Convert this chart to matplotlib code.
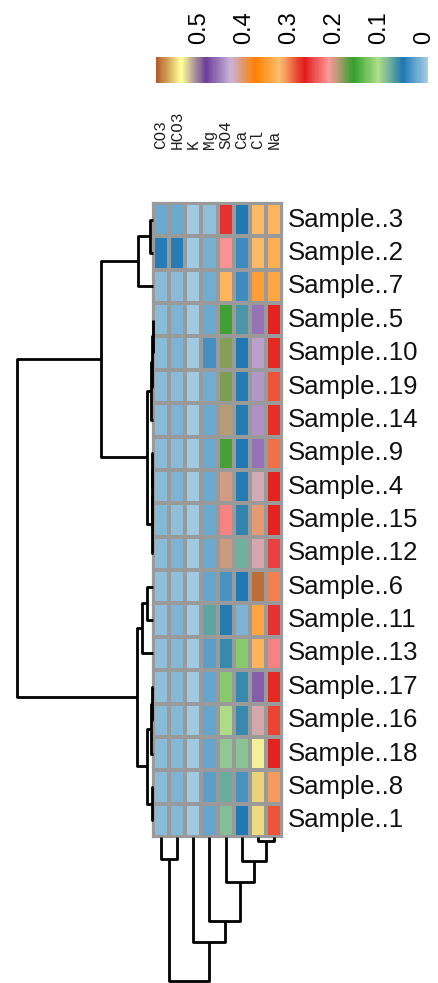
import numpy as np
import matplotlib
matplotlib.use("Agg")
import matplotlib.pyplot as plt
from matplotlib.colors import LinearSegmentedColormap, Normalize
from matplotlib.cm import ScalarMappable

# rows in the order shown (top to bottom)
samples = ["Sample..3", "Sample..2", "Sample..7", "Sample..5", "Sample..10",
           "Sample..19", "Sample..14", "Sample..9", "Sample..4", "Sample..15",
           "Sample..12", "Sample..6", "Sample..11", "Sample..13", "Sample..17",
           "Sample..16", "Sample..18", "Sample..8", "Sample..1"]
ions = ["CO3", "HCO3", "K", "Mg", "SO4", "Ca", "Cl", "Na"]

co3 = [0.017, 0.044, 0.005, 0.006, 0.004, 0.004, 0.004, 0.004, 0.004, 0.008,
       0.004, 0.002, 0.002, 0.003, 0.003, 0.004, 0.004, 0.004, 0.004]
hco3 = [0.017, 0.044, 0.004, 0.010, 0.010, 0.006, 0.009, 0.006, 0.010, 0.003,
        0.010, 0.003, 0.010, 0.007, 0.007, 0.007, 0.007, 0.010, 0.007]
k = [-0.004, -0.004, -0.005, -0.005, -0.005, -0.005, -0.005, -0.005, -0.005, -0.005,
     -0.005, -0.005, -0.005, -0.005, -0.005, -0.005, -0.005, -0.005, -0.005]
mg = [0.002, 0.012, 0.014, 0.016, 0.033, 0.014, 0.016, 0.016, 0.016, 0.016,
      0.016, 0.020, 0.072, 0.025, 0.020, 0.020, 0.020, 0.025, 0.020]
so4 = [0.258, 0.215, 0.330, 0.160, 0.180, 0.178, 0.193, 0.163, 0.200, 0.222,
       0.198, 0.030, 0.050, 0.058, 0.121, 0.105, 0.089, 0.075, 0.085]
ca = [0.047, 0.036, 0.036, 0.063, 0.048, 0.050, 0.050, 0.048, 0.050, 0.055,
      0.078, 0.047, 0.010, 0.120, 0.058, 0.058, 0.087, 0.030, 0.047]
cl = [0.325, 0.325, 0.350, 0.460, 0.438, 0.443, 0.447, 0.460, 0.423, 0.407,
      0.420, 0.588, 0.345, 0.330, 0.470, 0.420, 0.536, 0.555, 0.553]
na = [0.330, 0.335, 0.345, 0.270, 0.272, 0.286, 0.275, 0.295, 0.270, 0.270,
      0.250, 0.300, 0.258, 0.222, 0.272, 0.280, 0.270, 0.310, 0.285]

# merges: (child a, child b, height); ids >= n are earlier merges
row_links = [(0, 1, 3), (19, 2, 15), (3, 4, 0.5), (21, 5, 1.2), (22, 6, 2.5),
             (7, 8, 0.6), (24, 9, 1.0), (25, 10, 1.5), (23, 26, 6), (20, 27, 52),
             (11, 12, 6), (29, 13, 11), (14, 15, 1), (31, 16, 2), (17, 18, 1),
             (32, 33, 6), (30, 34, 16), (28, 35, 136)]
col_links = [(0, 1, 22), (6, 7, 4), (5, 9, 24), (4, 10, 45), (3, 11, 84),
             (2, 12, 105), (8, 13, 144)]

data = np.column_stack([co3, hco3, k, mg, so4, ca, cl, na])
n_rows, n_cols = data.shape

cmap = LinearSegmentedColormap.from_list("paired_smooth", plt.get_cmap("Paired").colors)
norm = Normalize(vmin=-0.008, vmax=0.596)


def dendro_segments(links, n):
    pos = [i + 0.5 for i in range(n)]
    h = [0.0] * n
    segs = []
    for a, b, d in links:
        segs.append(([h[a], d, d, h[b]], [pos[a], pos[a], pos[b], pos[b]]))
        pos.append((pos[a] + pos[b]) / 2)
        h.append(d)
    return segs


W, H = 439, 983
fig = plt.figure(figsize=(W / 100, H / 100), dpi=100)


def px_axes(x0, y0, x1, y1):
    return fig.add_axes([x0 / W, 1 - y1 / H, (x1 - x0) / W, (y1 - y0) / H])


# heatmap
ax = px_axes(153, 203, 282, 837)
ax.pcolormesh(np.arange(n_cols + 1), np.arange(n_rows + 1), data, cmap=cmap, norm=norm,
              edgecolors="#9a9a9a", linewidth=1.6)
ax.set_xlim(0, n_cols)
ax.set_ylim(n_rows, 0)
ax.set_xticks([])
ax.set_yticks([])
for s in ax.spines.values():
    s.set_color("#9a9a9a")
    s.set_linewidth(1.6)
for i, name in enumerate(samples):
    ax.text(n_cols + 0.35, i + 0.5, name, va="center", ha="left", fontsize=18.5,
            family="Liberation Sans", color="#111111")
for j, name in enumerate(ions):
    ax.text(j + 0.5, -1.62, name, rotation=90, va="bottom", ha="center", fontsize=11.5,
            family="Liberation Mono", color="#222222")

# row dendrogram
rmax = max(l[2] for l in row_links)
axr = px_axes(153 - rmax * 1.05, 203, 153, 837)
for xs, ys in dendro_segments(row_links, n_rows):
    axr.plot(xs, ys, color="black", lw=2, solid_capstyle="butt", clip_on=False)
axr.set_xlim(rmax * 1.05, 0)
axr.set_ylim(n_rows, 0)
axr.axis("off")

# column dendrogram
cmax = max(l[2] for l in col_links)
axc = px_axes(153, 837, 282, 837 + cmax)
for ys, xs in dendro_segments(col_links, n_cols):
    axc.plot(xs, ys, color="black", lw=2, solid_capstyle="butt", clip_on=False)
axc.set_xlim(0, n_cols)
axc.set_ylim(cmax, 0)
axc.axis("off")

# colour key
cax = px_axes(156, 57, 428, 83)
cb = fig.colorbar(ScalarMappable(norm=norm, cmap=cmap), cax=cax, orientation="horizontal")
cb.outline.set_visible(False)
cb.set_ticks([0, 0.1, 0.2, 0.3, 0.4, 0.5])
cb.set_ticklabels(["0", "0.1", "0.2", "0.3", "0.4", "0.5"])
cax.invert_xaxis()
cax.xaxis.set_ticks_position("top")
cax.tick_params(axis="x", length=0, pad=9, labelsize=17, labelrotation=90)
for t in cax.get_xticklabels():
    t.set_family("Liberation Sans")

fig.savefig("out.png", dpi=100)
